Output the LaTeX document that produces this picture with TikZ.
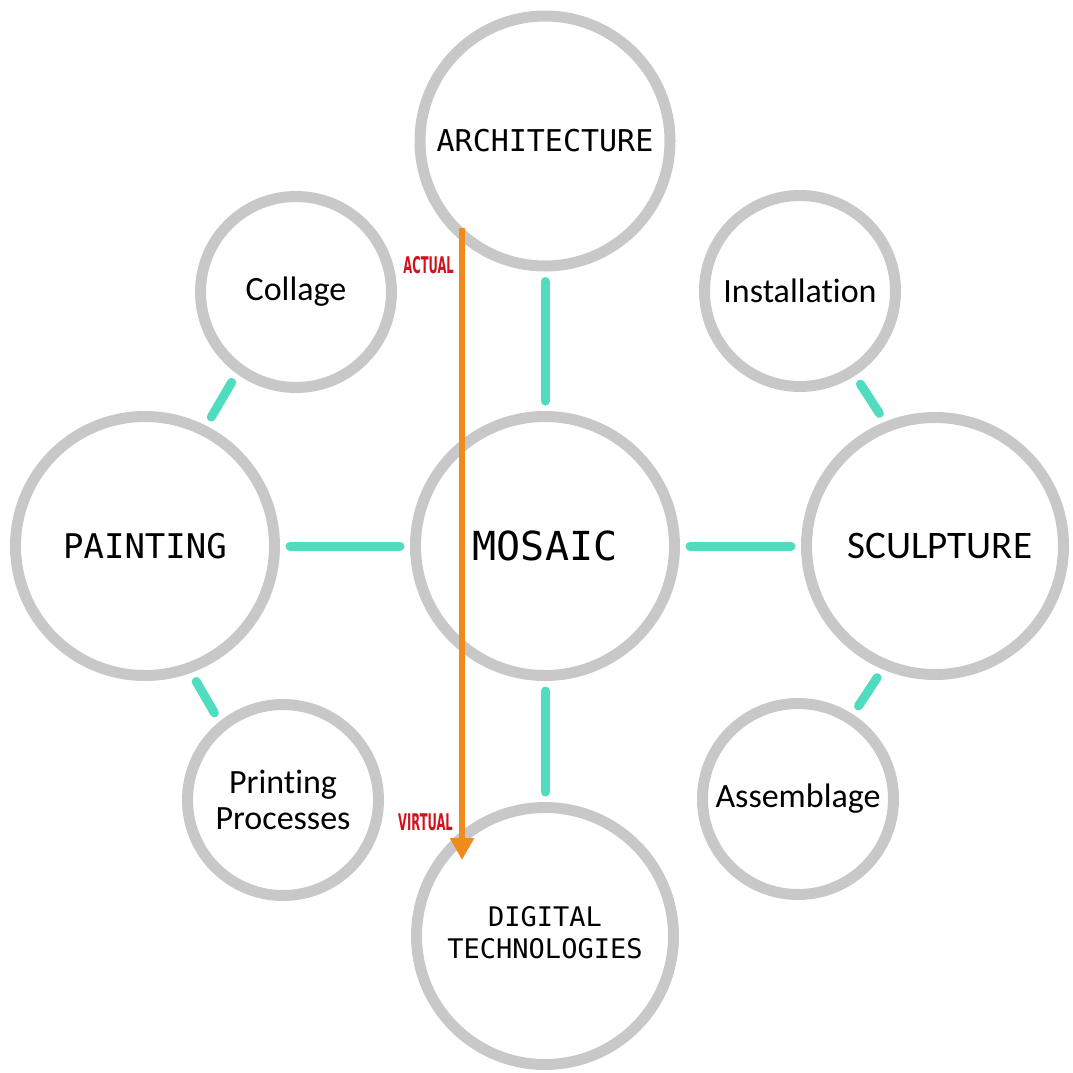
\documentclass[tikz,border=0pt]{standalone}
\usepackage{fontspec}
\usepackage{graphicx}
\setmainfont{Carlito}[Ligatures=NoCommon]
\newfontfamily\monofont{DejaVu Sans Mono}
\newfontfamily\tagfont{DejaVu Sans}
\usetikzlibrary{arrows.meta}
\definecolor{ringgray}{HTML}{C8C8C8}
\definecolor{linkteal}{HTML}{50DCBE}
\definecolor{flowor}{HTML}{F08A1C}
\definecolor{tagred}{HTML}{D0121C}

\begin{document}
\begin{tikzpicture}[x=1pt,y=-1pt,
  ring/.style={circle, draw=ringgray, line width=11pt, inner sep=0pt, align=center},
  bigring/.style={ring, minimum size=257pt},
  smallring/.style={ring, minimum size=191pt},
  monotext/.style={font=\monofont\fontsize{#1}{#1}\selectfont},
  sanstext/.style={font=\fontsize{34}{37}\selectfont},
  link/.style={draw=linkteal, line width=9pt, line cap=round, shorten <=10pt, shorten >=10pt},
  flow/.style={draw=flowor, line width=6pt, -{Triangle[width=23pt,length=22pt]}},
  tag/.style={text=tagred, inner sep=0pt, anchor=east, font=\tagfont\bfseries\fontsize{23}{23}\selectfont}
]
\useasboundingbox (0,0) rectangle (1072,1073);

% main circles
\node[bigring, minimum size=250pt, monotext=30] (arch) at (545,141) {ARCHITECTURE};
\node[bigring, minimum size=259pt, monotext=40] (mosaic) at (545,546) {MOSAIC};
\node[bigring, font=\monofont\fontsize{27}{32}\selectfont] (digital) at (545,936) {\raisebox{5pt}{\begin{tabular}{@{}c@{}}DIGITAL\\TECHNOLOGIES\end{tabular}}};
\node[bigring, minimum size=259pt, monotext=34] (painting) at (145,546) {PAINTING};
\node[bigring, font=\fontsize{39}{44}\selectfont] (sculpture) at (935,546) {\hspace*{10pt}SCULPTURE};

% satellite circles
\node[smallring, sanstext] (collage) at (296,292) {Collage};
\node[smallring, sanstext] (install) at (800,291) {Installation};
\node[smallring, font=\fontsize{34}{36}\selectfont] (printing) at (283,800) {Printing\\Processes};
\node[smallring, sanstext] (assem) at (798,799) {Assemblage};

% connectors
\draw[link] (arch) -- (mosaic);
\draw[link] (mosaic) -- (digital);
\draw[link] (painting) -- (mosaic);
\draw[link] (mosaic) -- (sculpture);
\draw[link] (collage.-126) -- (painting.63);
\draw[link] (painting.-70) -- (printing.129);
\draw[link] (install.-57) -- (sculpture.112);
\draw[link] (sculpture.-113) -- (assem.57);

% actual-to-virtual arrow
\coordinate (flowtop) at (462,228);
\coordinate (flowend) at (462,860);
\draw[flow] (flowtop) -- (flowend);
\node[tag] (actual) at (454,265) {\scalebox{0.5}[1]{ACTUAL}};
\node[tag] (virtual) at (453,822) {\scalebox{0.5}[1]{VIRTUAL}};
\end{tikzpicture}
\end{document}
